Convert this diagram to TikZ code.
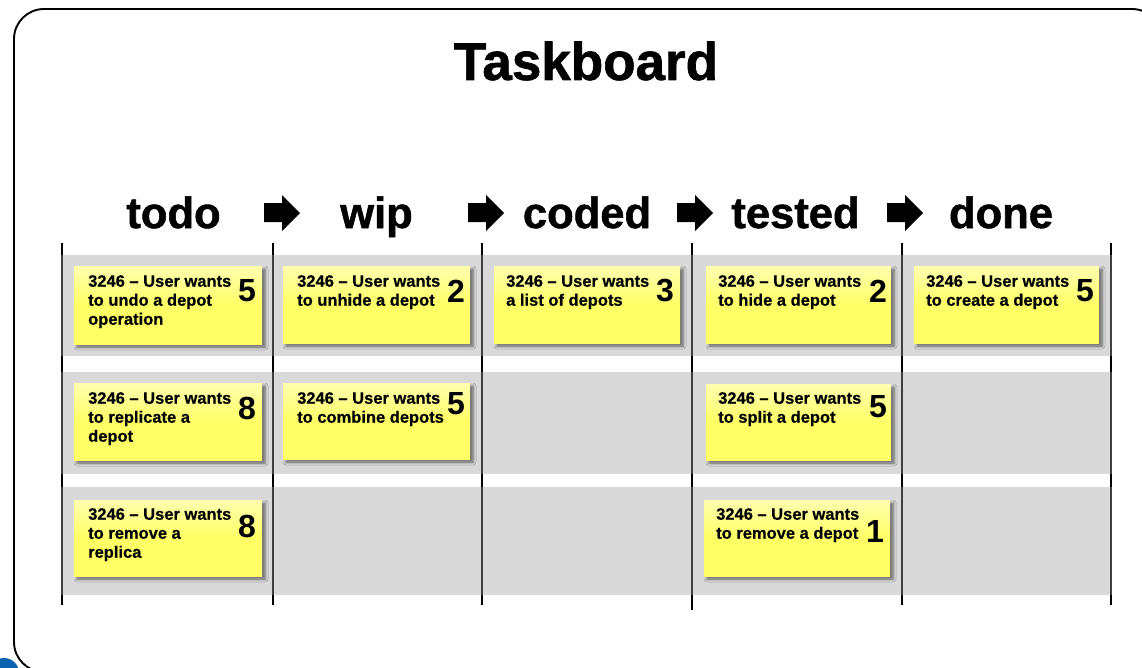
\documentclass[tikz,border=0pt]{standalone}
\usepackage{fontspec}
\setmainfont{Liberation Sans}
\newfontfamily\heavyf[UprightFont=* Bold,FakeBold=1.2]{Liberation Sans}
\newfontfamily\notef[UprightFont=* Bold,FakeBold=0.35]{Liberation Sans}
\usetikzlibrary{shadows.blur}
\tikzset{
  x=1pt,y=-1pt,
  band/.style={fill=bandgray,draw=none},
  postline/.style={draw=black,line width=2.4pt},
  thinline/.style={draw=black!75,line width=1.1pt},
  note/.style={top color=noteTop,bottom color=noteBot,middle color=noteBot,
    blur shadow={shadow xshift=3pt,shadow yshift=-3pt,shadow blur radius=3pt,shadow opacity=55}},
  notetext/.style={anchor=north west,inner sep=0pt,align=left,font=\notef\fontsize{16.5}{19}\selectfont},
  pts/.style={inner sep=0pt,font=\fontsize{32}{32}\selectfont\bfseries},
  head/.style={anchor=base,inner sep=0pt,font=\heavyf\fontsize{43.5}{43.5}\selectfont,text=black},
  flow/.style={fill=black},
}
\definecolor{bandgray}{HTML}{D9D9D9}
\definecolor{noteTop}{HTML}{FFFFB0}
\definecolor{noteBot}{HTML}{FFFF66}
\definecolor{logoblue}{HTML}{0B62B0}
\newcommand{\sticky}[9]{% name,x0,y0,x1,y1,textpos,text,pts,ptspos
  \path[note] (#2,#3) rectangle (#4,#5);
  \node[notetext] (#1t) at (#6) {#7};
  \node[pts] (#1p) at (#9) {#8};
}
\begin{document}
\begin{tikzpicture}
\useasboundingbox (0,0) rectangle (1142,667);
\begin{scope}
\clip (0,0) rectangle (1142,667);
\fill[white] (0,0) rectangle (1142,667);
\fill[logoblue] (4,673) circle (15);
\draw[black,line width=1.9pt,rounded corners=30pt] (14,9) rectangle (1162,672);
\end{scope}
\node[inner sep=0pt,font=\heavyf\fontsize{53}{53}\selectfont] (title) at (586,61) {Taskboard};
\foreach \n/\t/\x in {a/todo/173.5,b/wip/376.5,c/coded/587,d/tested/795.5,e/done/1001}
  \node[head] (h\n) at (\x,228) {\t};
\foreach \x in {264,468,677,887}
  \path[flow] (\x,203) -- (\x+18,203) -- (\x+18,195) -- (\x+36,213) -- (\x+18,231) -- (\x+18,222) -- (\x,222) -- cycle;
\foreach \x/\e in {62/605,273/605,482/605,692/610,902/605,1111/605}
  \draw[postline] (\x,243) -- (\x,\e);
\foreach \a/\b in {255/356,372/474,487/595}
  \path[band] (62,\a) rectangle (1111,\b);
\foreach \x in {62,273,482,692,902,1111}
  \foreach \a/\b in {255/356,372/474,487/595}
    \draw[thinline] (\x,\a) -- (\x,\b);
\sticky{n1}{74}{266}{262}{344}{88,275}{3246 – User wants\\to undo a depot\\operation}{5}{247,291}
\sticky{n2}{283}{266}{470}{343}{297,275}{3246 – User wants\\to unhide a depot}{2}{456,291}
\sticky{n3}{494}{266}{680}{343}{506,275}{3246 – User wants\\a list of depots}{3}{665,291}
\sticky{n4}{706}{266}{891}{343}{718,275}{3246 – User wants\\to hide a depot}{2}{878,291}
\sticky{n5}{914}{266}{1099}{343}{926,275}{3246 – User wants\\to create a depot}{5}{1085,291}
\sticky{n6}{74}{383}{262}{460}{88,392}{3246 – User wants\\to replicate a\\depot}{8}{247,408}
\sticky{n7}{283}{383}{470}{459}{297,392}{3246 – User wants\\to combine depots}{5}{456,404}
\sticky{n8}{706}{384}{891}{460}{718,392}{3246 – User wants\\to split a depot}{5}{878,407}
\sticky{n9}{74}{500}{262}{576}{88,508}{3246 – User wants\\to remove a\\replica}{8}{247,526}
\sticky{n10}{704}{500}{890}{576}{716,508}{3246 – User wants\\to remove a depot}{1}{875,531}
\end{tikzpicture}
\end{document}
